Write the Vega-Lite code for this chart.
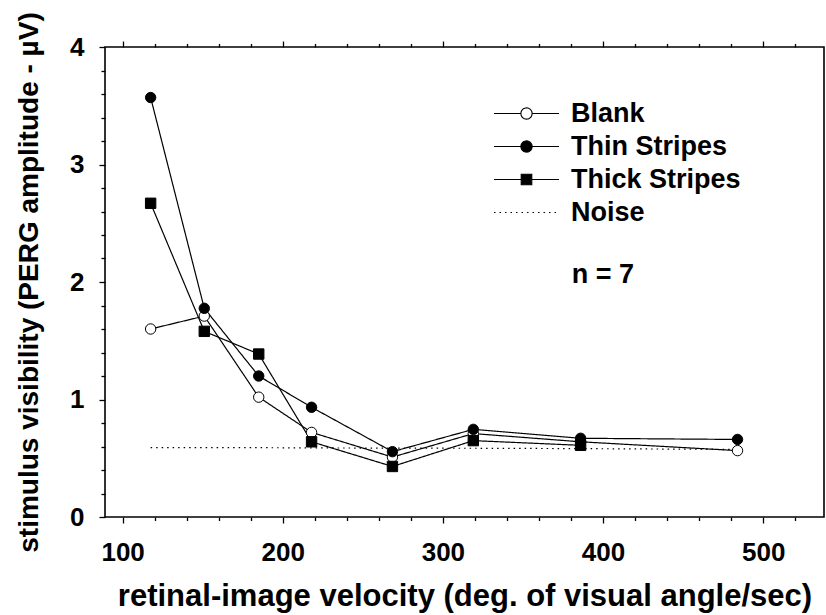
{
  "$schema": "https://vega.github.io/schema/vega-lite/v6.json",
  "width": 719,
  "height": 470,
  "autosize": "none",
  "padding": {"left": 105, "top": 47, "right": 2, "bottom": 98},
  "background": "white",
  "config": {
    "view": {"stroke": "black", "strokeWidth": 1.6},
    "font": "Liberation Sans",
    "axis": {"grid": false, "domain": false, "tickColor": "black", "tickWidth": 1.3, "labelColor": "black", "titleColor": "black", "labelFont": "Liberation Sans", "titleFont": "Liberation Sans", "labelFontWeight": "bold", "titleFontWeight": "bold"}
  },
  "datasets": {
    "pts": [
      {"velocity": 117.5, "amp": 1.60, "series": "Blank"},
      {"velocity": 151, "amp": 1.71, "series": "Blank"},
      {"velocity": 185, "amp": 1.02, "series": "Blank"},
      {"velocity": 218, "amp": 0.72, "series": "Blank"},
      {"velocity": 268.5, "amp": 0.51, "series": "Blank"},
      {"velocity": 319, "amp": 0.71, "series": "Blank"},
      {"velocity": 386, "amp": 0.64, "series": "Blank"},
      {"velocity": 484, "amp": 0.565, "series": "Blank"},
      {"velocity": 117.5, "amp": 3.57, "series": "Thin Stripes"},
      {"velocity": 151, "amp": 1.776, "series": "Thin Stripes"},
      {"velocity": 185, "amp": 1.20, "series": "Thin Stripes"},
      {"velocity": 218, "amp": 0.934, "series": "Thin Stripes"},
      {"velocity": 268.5, "amp": 0.556, "series": "Thin Stripes"},
      {"velocity": 319, "amp": 0.746, "series": "Thin Stripes"},
      {"velocity": 386, "amp": 0.67, "series": "Thin Stripes"},
      {"velocity": 484, "amp": 0.66, "series": "Thin Stripes"},
      {"velocity": 117.5, "amp": 2.67, "series": "Thick Stripes"},
      {"velocity": 151, "amp": 1.58, "series": "Thick Stripes"},
      {"velocity": 185, "amp": 1.387, "series": "Thick Stripes"},
      {"velocity": 218, "amp": 0.64, "series": "Thick Stripes"},
      {"velocity": 268.5, "amp": 0.43, "series": "Thick Stripes"},
      {"velocity": 319, "amp": 0.65, "series": "Thick Stripes"},
      {"velocity": 386, "amp": 0.61, "series": "Thick Stripes"},
      {"velocity": 117.5, "amp": 0.59, "series": "Noise"},
      {"velocity": 151, "amp": 0.59, "series": "Noise"},
      {"velocity": 185, "amp": 0.59, "series": "Noise"},
      {"velocity": 218, "amp": 0.588, "series": "Noise"},
      {"velocity": 268.5, "amp": 0.586, "series": "Noise"},
      {"velocity": 319, "amp": 0.585, "series": "Noise"},
      {"velocity": 386, "amp": 0.582, "series": "Noise"},
      {"velocity": 484, "amp": 0.575, "series": "Noise"}
    ],
    "note": [
      {"label": "n = 7", "velocity": 380.5, "amp": 2.06}
    ]
  },
  "resolve": {"axis": {"x": "independent", "y": "independent"}},
  "layer": [
    {
      "data": {"name": "pts"},
      "mark": {"type": "line", "strokeWidth": 1.2},
      "encoding": {
        "x": {
          "field": "velocity", "type": "quantitative",
          "scale": {"domain": [89, 538], "nice": false, "zero": false},
          "axis": {
            "orient": "bottom",
            "values": [100, 120, 140, 160, 180, 200, 220, 240, 260, 280, 300, 320, 340, 360, 380, 400, 420, 440, 460, 480, 500, 520],
            "labelExpr": "datum.value % 100 === 0 ? '' + datum.value : ''",
            "labelOverlap": false, "labelFlush": false,
            "tickSize": {"condition": {"test": "datum.value % 100 === 0", "value": 6}, "value": 3.5},
            "labelFontSize": 26, "labelPadding": 16,
            "title": "retinal-image velocity (deg. of visual angle/sec)",
            "titleFontSize": 31, "titlePadding": 16
          }
        },
        "y": {
          "field": "amp", "type": "quantitative",
          "scale": {"domain": [0, 4], "nice": false},
          "axis": {
            "orient": "left",
            "values": [0, 0.2, 0.4, 0.6, 0.8, 1, 1.2, 1.4, 1.6, 1.8, 2, 2.2, 2.4, 2.6, 2.8, 3, 3.2, 3.4, 3.6, 3.8, 4],
            "labelExpr": "datum.value % 1 === 0 ? '' + datum.value : ''",
            "labelOverlap": false, "labelFlush": false,
            "tickSize": {"condition": {"test": "datum.value % 1 === 0", "value": 6}, "value": 4},
            "labelFontSize": 26, "labelPadding": 15,
            "title": "stimulus visibility (PERG amplitude - µV)",
            "titleFontSize": 28, "titlePadding": 26
          }
        },
        "detail": {"field": "series"},
        "color": {
          "field": "series", "type": "nominal",
          "scale": {"domain": ["Blank", "Thin Stripes", "Thick Stripes", "Noise"], "range": ["black", "black", "black", "black"]},
          "legend": {
            "orient": "none", "legendX": 408, "legendY": 53,
            "title": null, "padding": 0,
            "labelFont": "Liberation Sans", "labelFontWeight": "bold", "labelFontSize": 27, "labelColor": "black",
            "labelLimit": 0,
            "labelOffset": 31, "rowPadding": 5, "symbolSize": 256,
            "encode": {
              "symbols": {
                "update": {
                  "shape": {"signal": "datum.value === 'Blank' || datum.value === 'Thin Stripes' ? 'M-4.06,0H-0.7M0.7,0H4.06M-0.7,0A0.7,0.7 0 1,1 0.7,0A0.7,0.7 0 1,1 -0.7,0Z' : datum.value === 'Thick Stripes' ? 'M-4.06,0H-0.66M0.66,0H4.06M-0.66,-0.66H0.66V0.66H-0.66Z' : 'M-4.06,0H4.06'"},
                  "fill": {"signal": "datum.value === 'Blank' ? 'white' : datum.value === 'Noise' ? 'transparent' : 'black'"},
                  "stroke": {"value": "black"},
                  "strokeWidth": {"value": 1.1},
                  "strokeDash": {"signal": "datum.value === 'Noise' ? [1.5, 3] : []"},
                  "size": {"value": 256},
                  "opacity": {"value": 1}
                }
              }
            }
          }
        },
        "strokeDash": {
          "field": "series", "type": "nominal",
          "scale": {"domain": ["Blank", "Thin Stripes", "Thick Stripes", "Noise"], "range": [[1, 0], [1, 0], [1, 0], [1.5, 4]]},
          "legend": null
        }
      }
    },
    {
      "data": {"name": "pts"},
      "transform": [{"filter": "datum.series !== 'Noise'"}],
      "mark": {"type": "point", "filled": true, "stroke": "black", "strokeWidth": 1, "opacity": 1},
      "encoding": {
        "x": {
          "field": "velocity", "type": "quantitative",
          "axis": {
            "orient": "top",
            "values": [100, 120, 140, 160, 180, 200, 220, 240, 260, 280, 300, 320, 340, 360, 380, 400, 420, 440, 460, 480, 500, 520],
            "labels": false, "title": null,
            "tickSize": {"condition": {"test": "datum.value % 100 === 0", "value": 6}, "value": 3.5}
          }
        },
        "y": {"field": "amp", "type": "quantitative", "axis": null},
        "shape": {
          "field": "series", "type": "nominal",
          "scale": {"domain": ["Blank", "Thin Stripes", "Thick Stripes"], "range": ["circle", "circle", "square"]},
          "legend": null
        },
        "fill": {
          "field": "series", "type": "nominal",
          "scale": {"domain": ["Blank", "Thin Stripes", "Thick Stripes"], "range": ["white", "black", "black"]},
          "legend": null
        },
        "size": {
          "field": "series", "type": "nominal",
          "scale": {"domain": ["Blank", "Thin Stripes", "Thick Stripes"], "range": [108, 108, 137]},
          "legend": null
        }
      }
    },
    {
      "data": {"name": "note"},
      "mark": {"type": "text", "align": "left", "baseline": "middle", "font": "Liberation Sans", "fontWeight": "bold", "fontSize": 27, "color": "black"},
      "encoding": {
        "x": {"field": "velocity", "type": "quantitative", "axis": null},
        "y": {"field": "amp", "type": "quantitative", "axis": null},
        "text": {"field": "label"}
      }
    }
  ]
}
